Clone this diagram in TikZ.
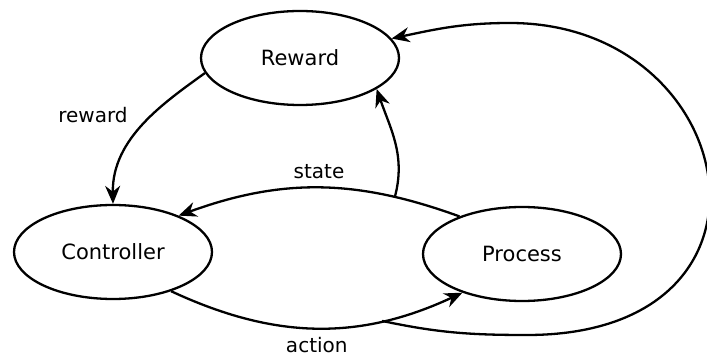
\documentclass[tikz,border=0pt]{standalone}
\usepackage{fontspec}
\setmainfont{DejaVu Sans}
\usetikzlibrary{arrows.meta,shapes.geometric}

\begin{document}
\begin{tikzpicture}[x=1pt, y=1pt, >={Stealth[length=18pt,width=15pt]}, line width=2.3pt, line join=round,
    block/.style={draw, ellipse, minimum width=198pt, minimum height=94pt, inner sep=0pt, font=\fontsize{21}{25}\selectfont},
    lbl/.style={inner sep=1pt, font=\fontsize{20}{24}\selectfont}]
    \useasboundingbox (0,0) rectangle (707,356);
    \node[block] (reward) at (300,298) {Reward};
    \node[block] (controller) at (113,104) {Controller};
    \node[block] (process) at (522,102) {Process};
    % edges
    \draw[->] (reward.189) to[out=216, in=91, out distance=49pt, in distance=66pt] node[lbl, pos=0.42, left=23pt] {reward} (controller.north);
    \draw[->] (process.149) to[out=160, in=20] coordinate[pos=0.22] (stbr) node[lbl, above=7pt] {state} (controller.29);
    \draw[->] (stbr) to[out=75, in=-71] (reward.338);
    \draw[->] (controller.-34) to[out=-25, in=205] coordinate[pos=0.73] (acbr) node[lbl, below=7pt] {action} (process.213);
    \draw[->] (acbr) to[out=-12, in=180] (527,21) to[out=0, in=0, out looseness=2.25, in looseness=1.9] (510,333) to[out=180, in=12] (reward.12);
\end{tikzpicture}
\end{document}
